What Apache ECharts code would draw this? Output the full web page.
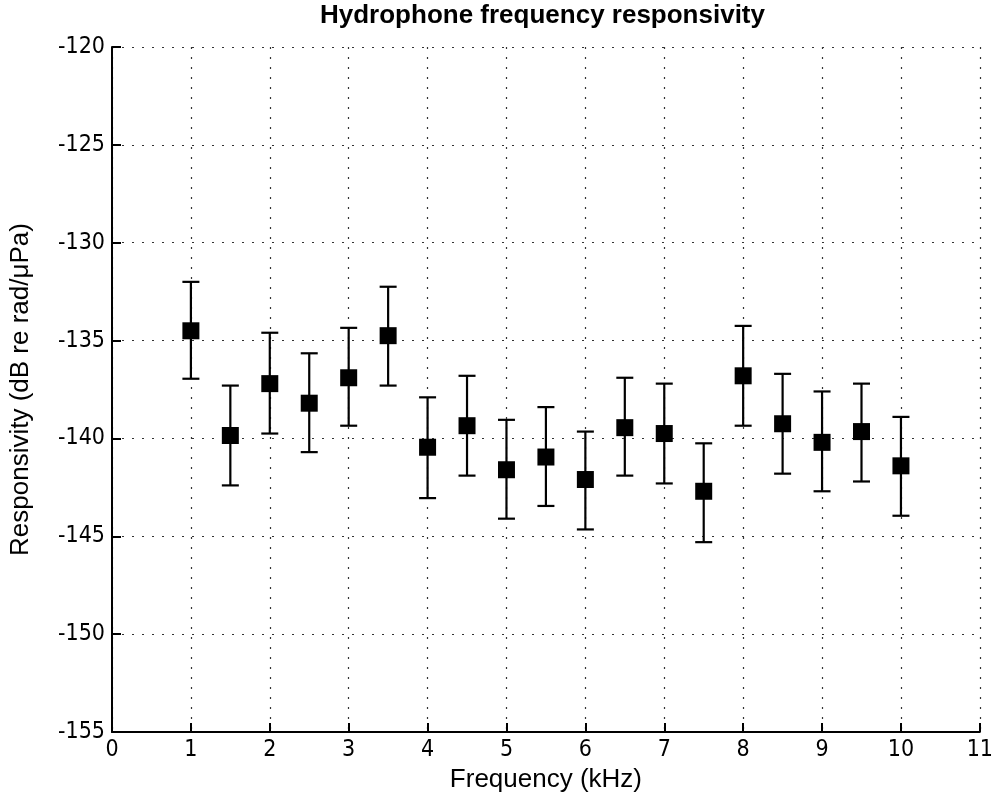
<!DOCTYPE html>
<html>
<head>
<meta charset="utf-8">
<script src="https://cdn.jsdelivr.net/npm/echarts@6/dist/echarts.min.js"></script>
<style>
html,body{margin:0;padding:0;background:#fff;}
#chart{width:996px;height:807px;}
</style>
</head>
<body>
<div id="chart"></div>
<script>
// Frequency (kHz)
var freq = [1, 1.5, 2, 2.5, 3, 3.5, 4, 4.5, 5, 5.5, 6, 6.5, 7, 7.5, 8, 8.5, 9, 9.5, 10];
// Responsivity (dB re rad/μPa)
var resp = [-134.5, -139.85, -137.2, -138.2, -136.9, -134.75, -140.45, -139.35, -141.6, -140.95, -142.1, -139.45, -139.75, -142.7, -136.8, -139.25, -140.2, -139.65, -141.4];
var upper = [-132.0, -137.3, -134.6, -135.65, -134.35, -132.25, -137.9, -136.8, -139.05, -138.4, -139.65, -136.9, -137.2, -140.25, -134.25, -136.7, -137.6, -137.2, -138.9];
var lower = [-136.95, -142.4, -139.75, -140.7, -139.35, -137.3, -143.05, -141.9, -144.1, -143.45, -144.65, -141.9, -142.3, -145.3, -139.35, -141.8, -142.7, -142.2, -143.95];
var xTicks = [0, 11, 1];      // min, max, interval
var yTicks = [-155, -120, 5]; // min, max, interval

var chart = echarts.init(document.getElementById('chart'));

var tickFont = "'DejaVu Sans Condensed', 'Liberation Sans', Arial, sans-serif";
var textFont = "'Liberation Sans', Arial, sans-serif";
var gridLine = {show: true, lineStyle: {color: '#333', width: 1.2, type: [2, 8]}};

var scatterData = freq.map(function (f, i) { return [f, resp[i]]; });
var errData = freq.map(function (f, i) { return [f, lower[i], upper[i]]; });

chart.setOption({
  animation: false,
  backgroundColor: '#fff',
  title: {
    text: 'Hydrophone frequency responsivity',
    left: 320,
    top: 0,
    padding: [3, 0, 0, 0],
    textStyle: {fontFamily: textFont, fontSize: 26, fontWeight: 'bold', color: '#000'}
  },
  grid: {left: 111, right: 16, top: 47, bottom: 75},
  xAxis: {
    type: 'value',
    min: xTicks[0], max: xTicks[1], interval: xTicks[2],
    name: 'Frequency (kHz)',
    nameLocation: 'middle',
    nameGap: 35,
    nameTextStyle: {fontFamily: textFont, fontSize: 26, color: '#000'},
    axisLine: {show: true, onZero: false, lineStyle: {color: '#000', width: 2}},
    axisTick: {show: true, inside: true, length: 9, lineStyle: {color: '#000', width: 2}},
    axisLabel: {fontFamily: tickFont, fontSize: 23, color: '#000', margin: 7},
    splitLine: gridLine
  },
  yAxis: {
    type: 'value',
    min: yTicks[0], max: yTicks[1], interval: yTicks[2],
    name: 'Responsivity (dB re rad/μPa)',
    nameLocation: 'middle',
    nameGap: 78,
    nameTextStyle: {fontFamily: textFont, fontSize: 26, color: '#000'},
    axisLine: {show: true, onZero: false, lineStyle: {color: '#000', width: 2}},
    axisTick: {show: true, inside: true, length: 9, lineStyle: {color: '#000', width: 2}},
    axisLabel: {fontFamily: tickFont, fontSize: 23, color: '#000', margin: 7},
    splitLine: gridLine
  },
  series: [
    {
      type: 'custom',
      data: errData,
      z: 3,
      renderItem: function (params, api) {
        var x = api.value(0);
        var lo = api.coord([x, api.value(1)]);
        var hi = api.coord([x, api.value(2)]);
        var hw = 8.5;
        var st = {stroke: '#000', lineWidth: 2.2};
        return {
          type: 'group',
          children: [
            {type: 'line', shape: {x1: lo[0], y1: lo[1], x2: hi[0], y2: hi[1]}, style: st},
            {type: 'line', shape: {x1: hi[0] - hw, y1: hi[1], x2: hi[0] + hw, y2: hi[1]}, style: st},
            {type: 'line', shape: {x1: lo[0] - hw, y1: lo[1], x2: lo[0] + hw, y2: lo[1]}, style: st}
          ]
        };
      }
    },
    {
      type: 'scatter',
      data: scatterData,
      symbol: 'rect',
      symbolSize: 17,
      z: 4,
      itemStyle: {color: '#000', opacity: 1}
    }
  ]
});
</script>
</body>
</html>
